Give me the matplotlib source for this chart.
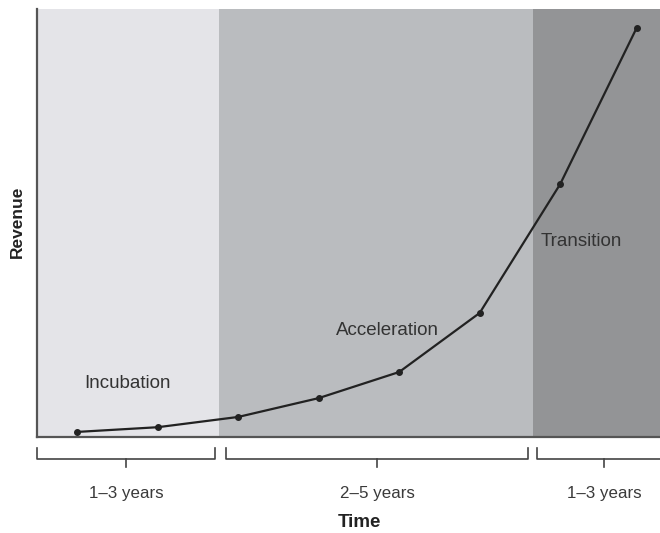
import matplotlib.pyplot as plt

# data (time in arbitrary units, revenue in % of max)
t_points = [0.5, 1.5, 2.5, 3.5, 4.5, 5.5, 6.5, 7.45]
revenue = [1.2, 2.3, 4.7, 9.1, 15.2, 29.0, 59.1, 95.6]

phase_names = ["Incubation", "Acceleration", "Transition"]
phase_edges = [0.0, 2.26, 6.16, 7.8]
phase_colors = ["#e4e4e8", "#babcbf", "#939496"]
phase_label_pos = [(1.12, 12.6), (4.35, 25.0), (6.76, 45.8)]

duration_labels = ["1\u20133 years", "2\u20135 years", "1\u20133 years"]
bracket_spans = [(0.0, 2.21), (2.35, 6.1), (6.21, 7.88)]

plt.rcParams['font.family'] = ['Liberation Sans', 'DejaVu Sans']

fig = plt.figure(figsize=(6.6, 5.33), dpi=100)
ax = fig.add_axes([0.056, 0.180, 0.944, 0.803])

for i in range(3):
    ax.axvspan(phase_edges[i], phase_edges[i + 1], color=phase_colors[i], lw=0, zorder=0)
    ax.text(phase_label_pos[i][0], phase_label_pos[i][1], phase_names[i],
            ha='center', va='center', fontsize=13.5, color='#333333')

ax.plot(t_points, revenue, color='#222222', lw=1.6, marker='o', ms=4, zorder=3)

ax.set_xlim(0, 7.74)
ax.set_ylim(0, 100)
ax.set_xticks([])
ax.set_yticks([])
for s in ['top', 'right']:
    ax.spines[s].set_visible(False)
for s in ['left', 'bottom']:
    ax.spines[s].set_color('#555555')
    ax.spines[s].set_linewidth(1.6)

# brackets under the axis
y_top, y_base, y_tick = -2.6, -5.1, -7.0
for (a, b), lab in zip(bracket_spans, duration_labels):
    mid = (a + b) / 2
    ax.plot([a, a, b, b], [y_top, y_base, y_base, y_top], color='#444444',
            lw=1.2, clip_on=False)
    ax.plot([mid, mid], [y_base, y_tick], color='#444444', lw=1.2, clip_on=False)
    ax.text(mid, -13.2, lab, ha='center', va='center', fontsize=12.2,
            color='#3a3a3a', clip_on=False)

fig.text(0.545, 0.019, "Time", ha='center', va='center', fontsize=13.5,
         fontweight='bold', color='#222222')
fig.text(0.027, 0.583, "Revenue", ha='center', va='center', rotation=90,
         fontsize=12.5, fontweight='bold', color='#222222')

fig.savefig('out.png', dpi=100)
